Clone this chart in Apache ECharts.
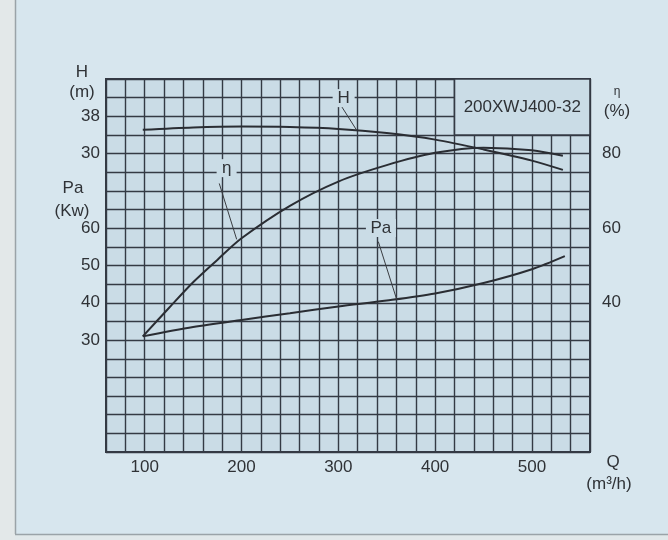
<!DOCTYPE html>
<html>
<head>
<meta charset="utf-8">
<script src="https://cdn.jsdelivr.net/npm/echarts@6/dist/echarts.min.js"></script>
<style>
html,body{margin:0;padding:0;background:#d7e6ee;}
#c{width:668px;height:540px;}
</style>
</head>
<body>
<div id="c"></div>
<script>
// ---- data ----
const Q_H   = [98, 150, 200, 250, 300, 350, 400, 450, 500, 532];
const H_VAL = [35.1, 35.6, 35.8, 35.7, 35.3, 34.4, 33.0, 30.9, 28.5, 26.5];

const Q_ETA   = [98, 125, 150, 175, 200, 250, 300, 350, 400, 450, 500, 532];
const ETA_VAL = [31, 38.6, 45.5, 51.5, 57.3, 66.0, 72.5, 76.9, 80.2, 81.6, 80.9, 79.4];

const Q_PA   = [98, 150, 200, 250, 300, 350, 400, 450, 500, 534];
const PA_VAL = [31, 33.5, 35.4, 37.2, 39.0, 40.6, 42.5, 45.3, 49.0, 52.5];

const X_TICKS   = [100, 200, 300, 400, 500];
const H_TICKS   = [30, 38];
const PA_TICKS  = [30, 40, 50, 60];
const ETA_TICKS = [40, 60, 80];

const MODEL = '200XWJ400-32';

// ---- styling ----
const FONT = 'Liberation Sans, Arial, sans-serif';
const TXT = '#2f3236';
const GRID_LINE = '#343a44';
const PLOT_BG = '#cadce6';
const CURVE = '#2a2d33';

const chart = echarts.init(document.getElementById('c'), null, {renderer: 'canvas'});

const labelStyle = {color: TXT, fontSize: 17, fontFamily: FONT};

function leader(a, b) {
  return {
    symbol: ['none', 'none'], silent: true,
    lineStyle: {color: '#3a3d42', width: 1, type: 'solid'},
    label: {show: false},
    data: [[{coord: a}, {coord: b}]]
  };
}
function tag(text, at, w) {
  return {
    silent: true,
    symbol: 'rect', symbolSize: [w, 18],
    itemStyle: {color: PLOT_BG},
    label: {show: true, position: 'inside', formatter: text, color: TXT, fontSize: 17, fontFamily: FONT},
    data: [{coord: at}]
  };
}

const curveBase = {type: 'line', smooth: 0.3, symbol: 'none', lineStyle: {color: CURVE, width: 2}};

const option = {
  animation: false,
  backgroundColor: '#d7e6ee',
  grid: {left: 106, top: 79, right: 78, bottom: 88, show: true, backgroundColor: PLOT_BG, borderColor: GRID_LINE, borderWidth: 2},
  xAxis: {
    type: 'value', min: 60, max: 560, interval: 20,
    axisLine: {show: false}, axisTick: {show: false},
    splitLine: {show: true, lineStyle: {color: GRID_LINE, width: 1.4}},
    axisLabel: Object.assign({margin: 7, formatter: v => X_TICKS.includes(v) ? String(v) : ''}, labelStyle)
  },
  yAxis: [
    { // H (m)
      type: 'value', min: -34, max: 46, position: 'left',
      axisLine: {show: false}, axisTick: {show: false}, splitLine: {show: false},
      axisLabel: Object.assign({margin: 6, customValues: H_TICKS}, labelStyle)
    },
    { // Pa (kW)
      type: 'value', min: 0, max: 100, interval: 5, position: 'left',
      axisLine: {show: false}, axisTick: {show: false},
      splitLine: {show: true, lineStyle: {color: GRID_LINE, width: 1.4}},
      axisLabel: Object.assign({margin: 6, formatter: v => PA_TICKS.includes(v) ? String(v) : ''}, labelStyle)
    },
    { // eta (%)
      type: 'value', min: 0, max: 100, interval: 5, position: 'right',
      axisLine: {show: false}, axisTick: {show: false}, splitLine: {show: false},
      axisLabel: Object.assign({margin: 12, formatter: v => ETA_TICKS.includes(v) ? String(v) : ''}, labelStyle)
    }
  ],
  series: [
    Object.assign({}, curveBase, {
      name: 'H', yAxisIndex: 0,
      data: Q_H.map((q, i) => [q, H_VAL[i]]),
      markLine: leader([303.4, 40.1], [319, 35.0]),
      markPoint: tag('H', [305.5, 41.9], 22)
    }),
    Object.assign({}, curveBase, {
      name: 'η', yAxisIndex: 2,
      data: Q_ETA.map((q, i) => [q, ETA_VAL[i]]),
      markLine: leader([177, 72.0], [195, 57.0]),
      markPoint: tag('η', [184.6, 76.1], 20),
      markArea: {
        silent: true,
        itemStyle: {color: PLOT_BG, borderColor: GRID_LINE, borderWidth: 1.6},
        label: {show: true, position: 'inside', color: TXT, fontSize: 17, fontFamily: FONT},
        data: [[{name: MODEL, coord: [420, 100]}, {coord: [560, 85]}]]
      }
    }),
    Object.assign({}, curveBase, {
      name: 'Pa', yAxisIndex: 1,
      data: Q_PA.map((q, i) => [q, PA_VAL[i]]),
      markLine: leader([341.3, 56.4], [360.3, 40.9]),
      markPoint: tag('Pa', [344, 60.05], 30)
    })
  ],
  graphic: [
    {type: 'rect', z: -10, shape: {x: 0, y: 0, width: 15, height: 540}, style: {fill: '#e3e8e9'}},
    {type: 'line', z: -9, shape: {x1: 15.5, y1: 0, x2: 15.5, y2: 534}, style: {stroke: '#9aa3a8', lineWidth: 1.5}},
    {type: 'rect', z: -10, shape: {x: 15, y: 535, width: 653, height: 5}, style: {fill: '#e1e8ea'}},
    {type: 'line', z: -9, shape: {x1: 15, y1: 534.5, x2: 668, y2: 534.5}, style: {stroke: '#9aa3a8', lineWidth: 1.5}},
    {type: 'text', x: 82, y: 72, style: {text: 'H', fill: TXT, font: '17px ' + FONT, textAlign: 'center', textVerticalAlign: 'middle'}},
    {type: 'text', x: 82, y: 92, style: {text: '(m)', fill: TXT, font: '17px ' + FONT, textAlign: 'center', textVerticalAlign: 'middle'}},
    {type: 'text', x: 73, y: 188, style: {text: 'Pa', fill: TXT, font: '17px ' + FONT, textAlign: 'center', textVerticalAlign: 'middle'}},
    {type: 'text', x: 72, y: 211, style: {text: '(Kw)', fill: TXT, font: '17px ' + FONT, textAlign: 'center', textVerticalAlign: 'middle'}},
    {type: 'text', x: 617, y: 92, style: {text: 'η', fill: TXT, font: '12px ' + FONT, textAlign: 'center', textVerticalAlign: 'middle'}},
    {type: 'text', x: 617, y: 111, style: {text: '(%)', fill: TXT, font: '17px ' + FONT, textAlign: 'center', textVerticalAlign: 'middle'}},
    {type: 'text', x: 613, y: 462, style: {text: 'Q', fill: TXT, font: '17px ' + FONT, textAlign: 'center', textVerticalAlign: 'middle'}},
    {type: 'text', x: 609, y: 484, style: {text: '(m³/h)', fill: TXT, font: '17px ' + FONT, textAlign: 'center', textVerticalAlign: 'middle'}}
  ]
};
chart.setOption(option);
</script>
</body>
</html>
